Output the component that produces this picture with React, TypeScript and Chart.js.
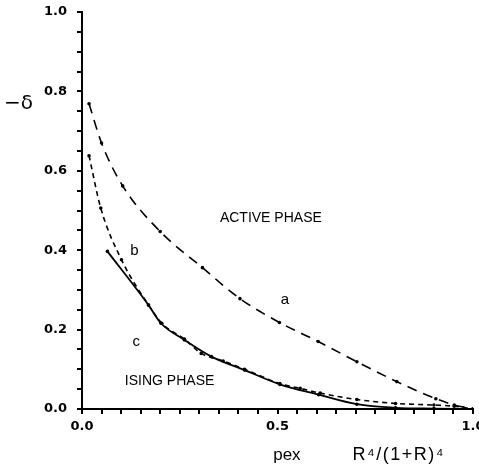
import React, { useEffect, useRef } from "react";
import { Chart, registerables } from "chart.js";

Chart.register(...registerables);

// Curve a: boundary of the active phase (long dashes)
const A_X = [0.018, 0.05, 0.104, 0.2, 0.308, 0.404, 0.505, 0.604, 0.703, 0.805, 0.905, 0.952, 1.0];
const A_Y = [0.769, 0.67, 0.562, 0.447, 0.356, 0.278, 0.218, 0.17, 0.119, 0.069, 0.026, 0.01, 0.0];

// Curve b (short dashes)
const B_X = [0.018, 0.048, 0.101, 0.17, 0.204, 0.262, 0.305, 0.361, 0.416, 0.506, 0.558, 0.609, 0.703, 0.802, 0.9, 0.952, 1.0];
const B_Y = [0.638, 0.506, 0.376, 0.262, 0.216, 0.176, 0.14, 0.121, 0.1, 0.064, 0.052, 0.04, 0.024, 0.014, 0.01, 0.007, 0.0];

// Curve c (solid)
const C_X = [0.065, 0.17, 0.202, 0.262, 0.331, 0.416, 0.506, 0.605, 0.703, 0.802, 0.9, 1.0];
const C_Y = [0.397, 0.262, 0.216, 0.174, 0.132, 0.098, 0.062, 0.036, 0.012, 0.003, 0.001, 0.0];

// Region and curve labels, in data units
const NOTE_TEXT = ["ACTIVE PHASE", "ISING PHASE", "a", "b", "c"];
const NOTE_X = [0.483, 0.224, 0.519, 0.134, 0.139];
const NOTE_Y = [0.482, 0.071, 0.275, 0.398, 0.169];

const X_TITLE_LEFT = "pex";
const X_TITLE_RIGHT = "R\u2074/(1+R)\u2074";
const Y_TITLE = "\u2212\u03b4";

const toPoints = (xs: number[], ys: number[]) => xs.map((x, i) => ({ x, y: ys[i] }));

const tickFont = { family: "'DejaVu Sans', sans-serif", weight: "bold" as const, size: 13 };

const textPlugin = {
  id: "phaseText",
  afterDraw(chart: any) {
    const { ctx, scales } = chart;
    const xs = scales.x;
    const ys = scales.y;
    ctx.save();
    ctx.fillStyle = "#000";
    ctx.textAlign = "center";
    ctx.textBaseline = "middle";
    NOTE_TEXT.forEach((t, i) => {
      ctx.font = t.length > 1 ? "14px 'Liberation Sans', sans-serif" : "15px 'Liberation Sans', sans-serif";
      ctx.fillText(t, xs.getPixelForValue(NOTE_X[i]), ys.getPixelForValue(NOTE_Y[i]));
    });
    // axis titles
    ctx.textBaseline = "alphabetic";
    ctx.font = "17px 'Liberation Sans', sans-serif";
    ctx.fillText(X_TITLE_LEFT, xs.getPixelForValue(0.524), 460);
    (ctx as any).letterSpacing = "1.5px";
    ctx.font = "18px 'Liberation Sans', sans-serif";
    ctx.fillText(X_TITLE_RIGHT, xs.getPixelForValue(0.81), 460);
    (ctx as any).letterSpacing = "0px";
    ctx.textAlign = "left";
    ctx.textBaseline = "middle";
    ctx.font = "20px 'DejaVu Sans', sans-serif";
    ctx.fillText(Y_TITLE, 4, ys.getPixelForValue(0.77));
    ctx.restore();
  },
};

export default function App() {
  const ref = useRef<HTMLCanvasElement>(null);

  useEffect(() => {
    document.body.style.margin = "0";
    const canvas = ref.current;
    if (!canvas) return;
    const line = (data: any, dash: number[], width: number) => ({
      data,
      showLine: true,
      borderColor: "#000",
      backgroundColor: "#000",
      borderWidth: width,
      borderDash: dash,
      pointRadius: 1.8,
      pointBorderWidth: 0,
      cubicInterpolationMode: "monotone" as const,
    });
    const chart = new Chart(canvas, {
      type: "scatter",
      data: {
        datasets: [
          line(toPoints(A_X, A_Y), [10, 7], 1.6),
          line(toPoints(B_X, B_Y), [5, 4], 1.6),
          line(toPoints(C_X, C_Y), [], 1.8),
        ],
      },
      options: {
        animation: false,
        responsive: false,
        devicePixelRatio: 1,
        layout: { autoPadding: false, padding: { left: 0, right: 6, top: 12, bottom: 0 } },
        plugins: { legend: { display: false }, tooltip: { enabled: false } },
        scales: {
          x: {
            type: "linear",
            min: 0,
            max: 1,
            afterFit: (s: any) => {
              s.height = 58;
              s.paddingLeft = 0;
              s.paddingRight = 0;
            },
            border: { display: true, color: "#000", width: 2 },
            grid: { drawOnChartArea: false, color: "#000", lineWidth: 2, tickLength: 5 },
            ticks: {
              stepSize: 0.05,
              autoSkip: false,
              maxRotation: 0,
              color: "#000",
              padding: 5,
              font: tickFont,
              callback: (v: any) => {
                const n = Number(v);
                return Math.abs(n * 2 - Math.round(n * 2)) < 1e-6 ? n.toFixed(1) : "";
              },
            },
          },
          y: {
            type: "linear",
            min: 0,
            max: 1,
            afterFit: (s: any) => {
              s.width = 82;
              s.paddingTop = 0;
              s.paddingBottom = 0;
            },
            border: { display: true, color: "#000", width: 2 },
            grid: { drawOnChartArea: false, color: "#000", lineWidth: 2, tickLength: 5 },
            ticks: {
              stepSize: 0.05,
              autoSkip: false,
              color: "#000",
              padding: 10,
              font: tickFont,
              callback: (v: any) => {
                const n = Number(v);
                return Math.abs(n * 5 - Math.round(n * 5)) < 1e-6 ? n.toFixed(1) : "";
              },
            },
          },
        },
      },
      plugins: [textPlugin],
    });
    return () => chart.destroy();
  }, []);

  return (
    <div style={{ width: 479, height: 467, background: "#fff" }}>
      <canvas ref={ref} width={479} height={467} style={{ display: "block" }} />
    </div>
  );
}
